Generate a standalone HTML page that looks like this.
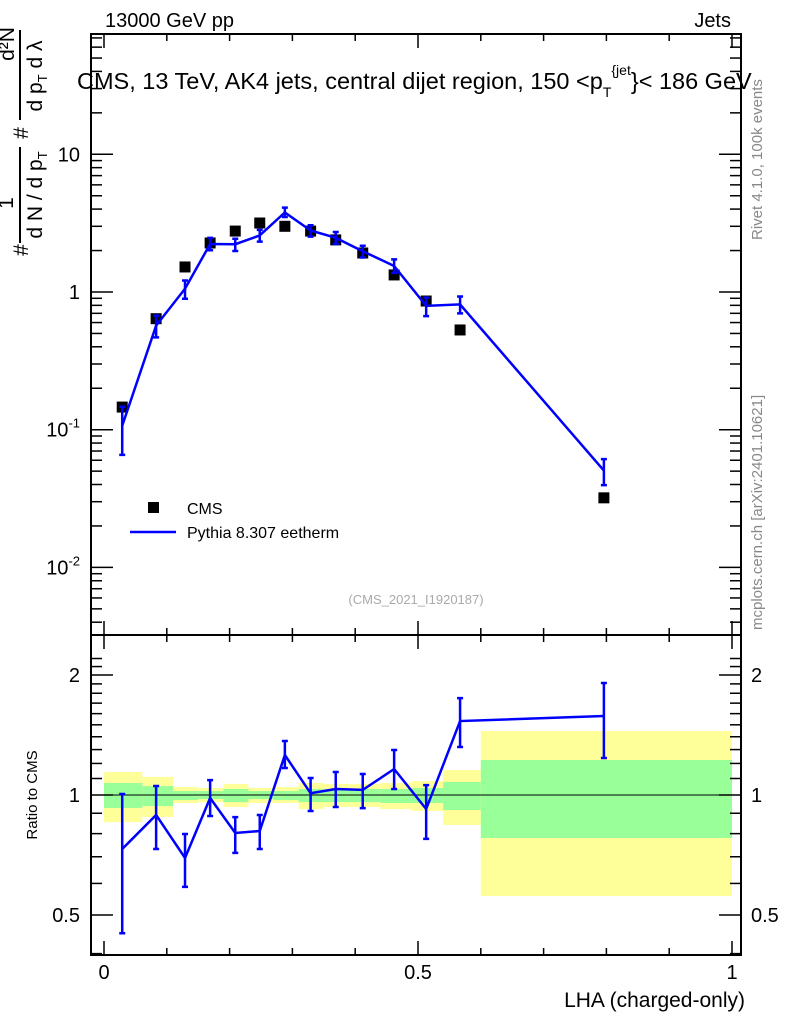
<!DOCTYPE html>
<html><head><meta charset="utf-8"><style>
body{margin:0;background:#fff}
svg{display:block;font-family:"Liberation Sans",sans-serif}
</style></head><body>
<svg id="c" width="786" height="1024" viewBox="0 0 786 1024">
<text x="105" y="27" font-size="20">13000 GeV pp</text>
<text x="731" y="27" font-size="20" text-anchor="end">Jets</text>
<text x="77" y="89" font-size="23.5">CMS, 13 TeV, AK4 jets, central dijet region, 150 &lt;p<tspan font-size="14" dy="8">T</tspan><tspan font-size="14" dy="-22">{jet</tspan><tspan dy="14">}&lt; 186 GeV</tspan></text>
<g transform="rotate(-90)">
<text x="-250" y="28" font-size="21" text-anchor="middle">#</text>
<text x="-203" y="13" font-size="21" text-anchor="middle">1</text>
<line x1="-243" x2="-147" y1="20" y2="20" stroke="#000" stroke-width="2"/>
<text x="-195" y="42" font-size="21" text-anchor="middle">d N / d p<tspan font-size="13" dy="5">T</tspan></text>
<text x="-133" y="28" font-size="21" text-anchor="middle">#</text>
<text x="-44" y="14" font-size="21" text-anchor="middle">d²N</text>
<line x1="-120" x2="-30" y1="20" y2="20" stroke="#000" stroke-width="2"/>
<text x="-76" y="42" font-size="21" text-anchor="middle">d p<tspan font-size="13" dy="5">T</tspan><tspan dy="-5">  d λ</tspan></text>
</g>
<text transform="translate(762,240) rotate(-90)" font-size="15" fill="#888">Rivet 4.1.0,  100k events</text>
<text transform="translate(762,630) rotate(-90)" font-size="15" fill="#888">mcplots.cern.ch [arXiv:2401.10621]</text>
<text x="416" y="604" font-size="13" fill="#aaa" text-anchor="middle">(CMS_2021_I1920187)</text>
<text transform="translate(37,795) rotate(-90)" font-size="15" text-anchor="middle">Ratio to CMS</text>
<text x="745" y="1007" font-size="21" text-anchor="end">LHA (charged-only)</text>
<g id="g"></g>
<rect x="91" y="34" width="650" height="601" fill="none" stroke="#000" stroke-width="2"/>
<rect x="91" y="635" width="650" height="320" fill="none" stroke="#000" stroke-width="2"/>
<rect x="148" y="502" width="11" height="11" fill="#000"/>
<text x="187" y="514" font-size="16">CMS</text>
<line x1="130" y1="532" x2="176" y2="532" stroke="#00f" stroke-width="2.5"/>
<text x="187" y="538" font-size="16">Pythia 8.307 eetherm</text>
</svg>
<script>
const binEdges=[0,0.061,0.11,0.15,0.19,0.23,0.27,0.31,0.35,0.39,0.44,0.49,0.54,0.6,1.0];
const xCenters=[0.029,0.083,0.129,0.169,0.209,0.248,0.288,0.329,0.369,0.412,0.462,0.513,0.567,0.796];
const cmsVals=[0.146,0.64,1.52,2.27,2.77,3.17,3.0,2.77,2.39,1.92,1.33,0.86,0.53,0.032];
const ratioVals=[0.732,0.891,0.695,0.983,0.803,0.812,1.26,1.01,1.035,1.03,1.162,0.922,1.533,1.578];
const ratioHi=[1.006,1.053,0.798,1.09,0.88,0.891,1.366,1.103,1.142,1.129,1.297,1.059,1.75,1.91];
const ratioLo=[0.45,0.732,0.588,0.886,0.716,0.732,1.169,0.912,0.933,0.927,1.035,0.776,1.32,1.238];
const yellowHi=[1.142,1.11,1.047,1.041,1.066,1.041,1.047,1.072,1.066,1.066,1.072,1.084,1.155,1.447];
const yellowLo=[0.855,0.881,0.955,0.960,0.933,0.955,0.955,0.922,0.933,0.933,0.922,0.912,0.841,0.558];
const greenHi=[1.072,1.053,1.023,1.023,1.035,1.023,1.023,1.035,1.035,1.035,1.035,1.041,1.078,1.224];
const greenLo=[0.928,0.938,0.971,0.977,0.960,0.977,0.971,0.960,0.960,0.960,0.955,0.955,0.917,0.78];
const xTicks=[0,0.5,1];
const xTickLabels=["0","0.5","1"];
const mainTicks=[10,1,0.1,0.01];
const ratioTicks=[2,1,0.5];
const ratioTickLabels=["2","1","0.5"];

const NS="http://www.w3.org/2000/svg";
const g=document.getElementById('g');
const X=v=>104+628*v;
const Y=v=>292-137.7*Math.log10(v);
const R=v=>795-398.6*Math.log10(v);
function mk(t,a,p){const e=document.createElementNS(NS,t);for(const k in a)e.setAttribute(k,a[k]);(p||g).appendChild(e);return e;}

binEdges.slice(0,-1).forEach((e,i)=>{
  const b=mk('rect',{x:X(e),y:R(yellowHi[i]),width:X(binEdges[i+1])-X(e),height:R(yellowLo[i])-R(yellowHi[i]),fill:'#ffff99'});
  
  
});
binEdges.slice(0,-1).forEach((e,i)=>{
  const b=mk('rect',{x:X(e),y:R(greenHi[i]),width:X(binEdges[i+1])-X(e),height:R(greenLo[i])-R(greenHi[i]),fill:'#99ff99'});
  
  
});
const one=mk('line',{x1:91,x2:741,y1:R(1),y2:R(1),stroke:'#000','stroke-width':1});



for(let v=0;v<=1.0001;v+=0.1){
  const major=Math.abs(v*2-Math.round(v*2))<1e-6;const L=major?14:7;
  [[635,635-L],[635,635+L],[955,955-L],[34,34+L]].forEach(([a,b])=>mk('line',{x1:X(v),x2:X(v),y1:a,y2:b,stroke:'#000','stroke-width':1.5}));
}
xTicks.forEach((v,i)=>{const t=mk('text',{x:X(v),y:979,'font-size':20,'text-anchor':'middle'});t.textContent=xTickLabels[i];

});

for(let d=-3;d<=1;d++)for(let m=1;m<=9;m++){const v=m*Math.pow(10,d);const y=Y(v);if(y<34||y>635)continue;const L=m==1?22:11;
  mk('line',{x1:91,x2:91+L,y1:y,y2:y,stroke:'#000','stroke-width':1.5});mk('line',{x1:741,x2:741-L,y1:y,y2:y,stroke:'#000','stroke-width':1.5});}
mainTicks.forEach(v=>{const y=Y(v);const t=mk('text',{x:80,y:y+7,'font-size':20,'text-anchor':'end'});
  if(v>=1)t.textContent=String(v);else{t.textContent='10';const s=mk('tspan',{dy:-9,'font-size':13},t);s.textContent=String(Math.round(Math.log10(v)));}
  
  });

for(let v=0.4;v<=2.3;v+=0.1){const y=R(v);if(y<635||y>955)continue;const maj=[0.5,1,2].some(m=>Math.abs(m-v)<1e-6);const L=maj?22:11;
  mk('line',{x1:91,x2:91+L,y1:y,y2:y,stroke:'#000','stroke-width':1.5});mk('line',{x1:741,x2:741-L,y1:y,y2:y,stroke:'#000','stroke-width':1.5});}
ratioTicks.forEach((v,i)=>{const y=R(v);
  const t=mk('text',{x:80,y:y+7,'font-size':20,'text-anchor':'end'});t.textContent=ratioTickLabels[i];
  
  
  const t2=mk('text',{x:751,y:y+7,'font-size':20});t2.textContent=ratioTickLabels[i];
  
  });

xCenters.forEach((x,i)=>{const r=mk('rect',{x:X(x)-5.5,y:Y(cmsVals[i])-5.5,width:11,height:11,fill:'#000'});
  
  });

const mc=cmsVals.map((c,i)=>c*ratioVals[i]);
const pl=mk('polyline',{points:xCenters.map((x,i)=>X(x)+','+Y(mc[i])).join(' '),fill:'none',stroke:'#00f','stroke-width':2.5});


function err(x,y1,y2,name){const e=mk('path',{d:`M${x},${y1}V${y2}M${x-3},${y1}H${x+3}M${x-3},${y2}H${x+3}`,stroke:'#00f','stroke-width':2.5,fill:'none'});
  
  }
xCenters.forEach((x,i)=>err(X(x),Y(mc[i]*ratioHi[i]/ratioVals[i]),Y(mc[i]*ratioLo[i]/ratioVals[i]),'mc-error-bar'));

const rl=mk('polyline',{points:xCenters.map((x,i)=>X(x)+','+R(ratioVals[i])).join(' '),fill:'none',stroke:'#00f','stroke-width':2.5});


xCenters.forEach((x,i)=>err(X(x),R(ratioHi[i]),R(ratioLo[i]),'ratio-error-bar'));
</script>
</body></html>
